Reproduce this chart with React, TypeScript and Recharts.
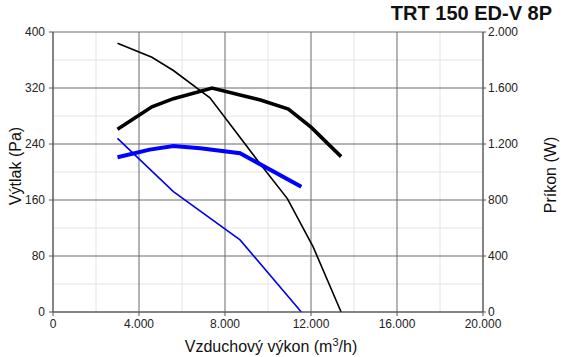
import React from 'react';
import { LineChart, Line, XAxis, YAxis, CartesianGrid, Label } from 'recharts';

const title = 'TRT 150 ED-V 8P';
const xTicks = [0, 4000, 8000, 12000, 16000, 20000];
const xMinor = [2000, 6000, 10000, 14000, 18000];
const pTicks = [0, 80, 160, 240, 320, 400];
const pMinor = [40, 120, 200, 280, 360];
const wTicks = [0, 400, 800, 1200, 1600, 2000];

// thin black: pressure (Pa)
const pressBlackFlow = [3000, 4600, 5600, 7300, 9550, 10900, 12100, 13400];
const pressBlackVal = [384, 364, 345, 306, 215, 162, 93, 0];
// thick black: power (W)
const powBlackFlow = [3000, 4600, 5600, 7400, 8700, 9650, 10950, 12000, 13400];
const powBlackVal = [1305, 1466, 1524, 1600, 1550, 1514, 1450, 1320, 1110];
// thin blue: pressure (Pa)
const pressBlueFlow = [3000, 5600, 8700, 11550];
const pressBlueVal = [248, 172, 103, 0];
// thick blue: power (W)
const powBlueFlow = [3000, 4500, 5600, 6850, 8700, 11550];
const powBlueVal = [1105, 1160, 1186, 1169, 1134, 895];

const mk = (xs: number[], ys: number[], key: string) => xs.map((x, i) => ({ flow: x, [key]: ys[i] }));

const fmt = (v: number) => {
  if (v >= 1000) {
    const th = Math.floor(v / 1000);
    const rest = String(v % 1000).padStart(3, '0');
    return `${th}.${rest}`;
  }
  return String(v);
};

const FONT = '"Liberation Sans", Arial, sans-serif';
const tickStyle = { fontSize: 12, fill: '#222', fontFamily: FONT };

const LeftTitle = (props: any) => {
  const vb = props.viewBox;
  const cx = 15;
  const cy = vb.y + vb.height / 2 - 6;
  return (
    <text x={cx} y={cy} transform={`rotate(-90, ${cx}, ${cy})`} textAnchor="middle" dominantBaseline="central" fontSize={16} fontFamily={FONT} fill="#111">
      Výtlak (Pa)
    </text>
  );
};

const RightTitle = (props: any) => {
  const vb = props.viewBox;
  const cx = 550;
  const cy = vb.y + vb.height / 2 + 3;
  return (
    <text x={cx} y={cy} transform={`rotate(-90, ${cx}, ${cy})`} textAnchor="middle" dominantBaseline="central" fontSize={16} fontFamily={FONT} fill="#111">
      Príkon (W)
    </text>
  );
};

const BottomTitle = (props: any) => {
  const vb = props.viewBox;
  const cx = vb.x + vb.width / 2 + 3;
  return (
    <text x={cx} y={351.5} textAnchor="middle" fontSize={16} fontFamily={FONT} fill="#111">
      Vzduchový výkon (m<tspan dy={-6} fontSize={11}>3</tspan><tspan dy={6}>/h)</tspan>
    </text>
  );
};

export default function App() {
  return (
    <div style={{ position: 'absolute', left: 0, top: 0, width: 561, height: 357, background: '#fff' }}>
      <div style={{ position: 'absolute', right: 9, top: 2, fontFamily: FONT, fontWeight: 'bold', fontSize: 20, color: '#111', lineHeight: '23px', whiteSpace: 'nowrap' }}>
        {title}
      </div>
      <LineChart width={561} height={357} margin={{ top: 32, right: 0, bottom: 0, left: 0 }}>
        <CartesianGrid stroke="#e4e4e4" strokeWidth={1} horizontalValues={pMinor} verticalValues={xMinor} yAxisId="p" />
        <CartesianGrid stroke="#6a6a6a" strokeWidth={1} horizontalValues={pTicks} verticalValues={xTicks} yAxisId="p" />
        <XAxis
          dataKey="flow"
          type="number"
          domain={[0, 20000]}
          ticks={xTicks}
          tickFormatter={fmt}
          allowDataOverflow
          height={45}
          tickSize={4}
          tickMargin={3}
          tick={tickStyle}
          stroke="#555"
          interval={0}
        >
          <Label content={<BottomTitle />} />
        </XAxis>
        <YAxis
          yAxisId="p"
          orientation="left"
          type="number"
          domain={[0, 400]}
          ticks={pTicks}
          width={53}
          tickSize={4}
          tickMargin={4}
          tick={tickStyle}
          stroke="#555"
          interval={0}
        >
          <Label content={<LeftTitle />} />
        </YAxis>
        <YAxis
          yAxisId="w"
          orientation="right"
          type="number"
          domain={[0, 2000]}
          ticks={wTicks}
          tickFormatter={fmt}
          width={78}
          tickSize={3}
          tickMargin={2}
          tick={tickStyle}
          stroke="#555"
          interval={0}
        >
          <Label content={<RightTitle />} />
        </YAxis>
        <Line yAxisId="p" data={mk(pressBlackFlow, pressBlackVal, 'v')} dataKey="v" stroke="#000" strokeWidth={1.6} dot={false} isAnimationActive={false} type="linear" />
        <Line yAxisId="p" data={mk(pressBlueFlow, pressBlueVal, 'v')} dataKey="v" stroke="#0000ee" strokeWidth={1.6} dot={false} isAnimationActive={false} type="linear" />
        <Line yAxisId="w" data={mk(powBlackFlow, powBlackVal, 'v')} dataKey="v" stroke="#000" strokeWidth={3.6} dot={false} isAnimationActive={false} type="linear" />
        <Line yAxisId="w" data={mk(powBlueFlow, powBlueVal, 'v')} dataKey="v" stroke="#0000ff" strokeWidth={4} dot={false} isAnimationActive={false} type="linear" />
      </LineChart>
    </div>
  );
}
